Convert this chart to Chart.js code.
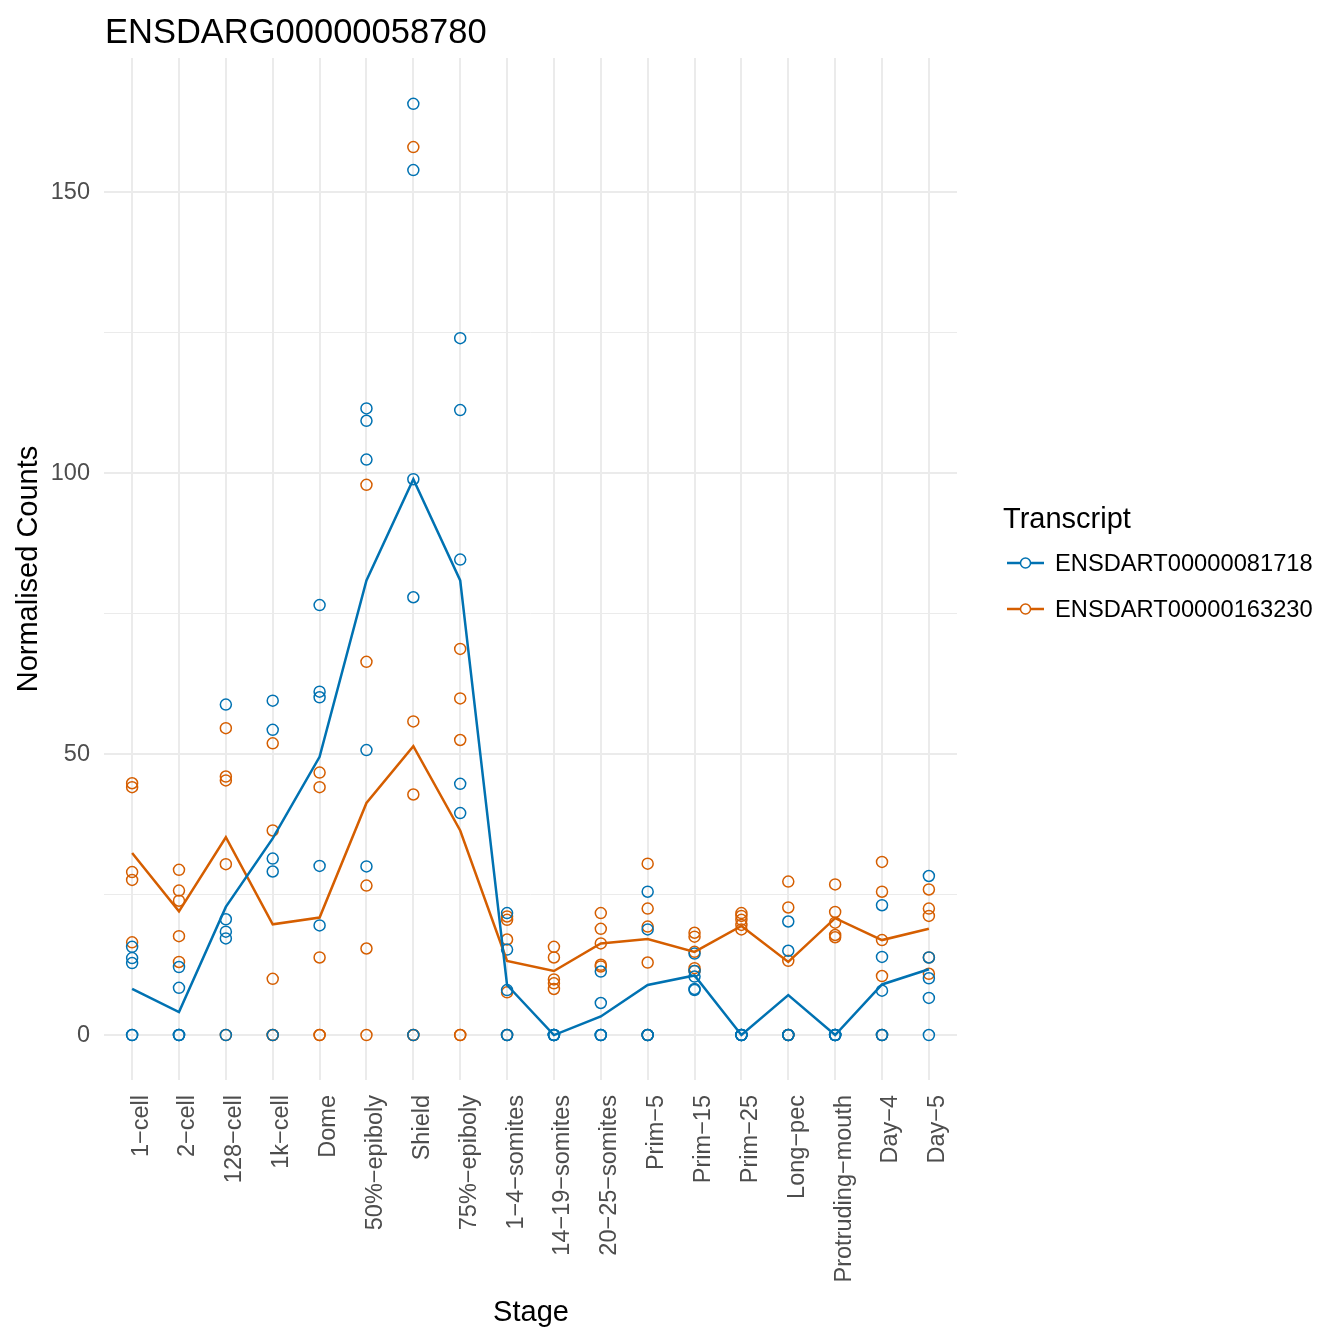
<!DOCTYPE html>
<html>
<head>
<meta charset="utf-8">
<script src="https://cdn.jsdelivr.net/npm/chart.js@4.4.1/dist/chart.umd.min.js"></script>
<style>
  body { margin: 0; background: #fff; }
  #wrap { position: relative; width: 1344px; height: 1344px; }
</style>
</head>
<body>
<div id="wrap"><canvas id="chart"></canvas></div>
<script>
const stages = ['1−cell', '2−cell', '128−cell', '1k−cell', 'Dome', '50%−epiboly', 'Shield', '75%−epiboly',
  '1−4−somites', '14−19−somites', '20−25−somites', 'Prim−5', 'Prim−15', 'Prim−25', 'Long−pec',
  'Protruding−mouth', 'Day−4', 'Day−5'];

// replicate counts per stage
const bluePoints = [
  [0, 0, 12.8, 13.7, 15.7],
  [0, 0, 0, 8.4, 12.1],
  [0, 17.2, 18.4, 20.6, 58.8],
  [0, 29.1, 31.4, 54.3, 59.5],
  [19.5, 30.1, 60.1, 61.1, 76.5],
  [30.0, 50.7, 102.4, 109.3, 111.5],
  [0, 77.9, 98.9, 153.9, 165.7],
  [39.5, 44.7, 84.6, 111.2, 124.0],
  [0, 0, 8.0, 15.2, 21.7],
  [0, 0, 0, 0, 0],
  [0, 0, 0, 5.7, 11.3],
  [0, 0, 0, 18.8, 25.5],
  [8.0, 8.2, 10.4, 11.4, 14.5],
  [0, 0, 0, 0, 0],
  [0, 0, 0, 15.0, 20.2],
  [0, 0, 0, 0, 0],
  [0, 0, 7.9, 13.9, 23.1],
  [0, 6.6, 10.1, 13.8, 28.3]
];
const orangePoints = [
  [16.5, 27.6, 29.0, 44.1, 44.8],
  [13.0, 17.6, 23.9, 25.7, 29.4],
  [0, 30.4, 45.3, 46.0, 54.6],
  [0, 0, 10.0, 36.4, 51.9],
  [0, 0, 13.8, 44.1, 46.7],
  [0, 15.4, 26.6, 66.4, 97.9],
  [0, 0, 42.8, 55.8, 158.0],
  [0, 0, 52.5, 59.9, 68.7],
  [0, 7.6, 17.0, 20.5, 21.1],
  [8.2, 9.2, 9.9, 13.8, 15.7],
  [12.2, 12.5, 16.3, 18.9, 21.7],
  [0, 12.9, 19.3, 22.5, 30.5],
  [11.4, 11.9, 14.8, 17.5, 18.2],
  [18.8, 19.6, 20.5, 21.2, 21.7],
  [0, 0, 13.2, 22.7, 27.3],
  [17.4, 17.8, 20.0, 21.9, 26.8],
  [0, 10.5, 16.9, 25.5, 30.8],
  [10.9, 13.8, 21.2, 22.5, 25.9]
];

// mean lines
const blueMean = [8.2, 4.1, 22.8, 35.0, 49.5, 80.9, 98.9, 80.9, 8.9, 0, 3.3, 8.9, 10.6, 0, 7.1, 0, 9.0, 11.7];
const orangeMean = [32.4, 22.0, 35.2, 19.7, 20.9, 41.3, 51.4, 36.4, 13.2, 11.4, 16.3, 17.1, 14.8, 19.4, 13.0, 20.8, 16.9, 18.9];

const yTicks = [0, 25, 50, 75, 100, 125, 150];
const seriesNames = ['ENSDART00000081718', 'ENSDART00000163230'];

const BLUE = '#0072B2';
const ORANGE = '#D55E00';
const FONT = "'Liberation Sans', Arial, Helvetica, sans-serif";

const toPts = arr => {
  const out = [];
  arr.forEach((vals, i) => vals.forEach(v => out.push({ x: i + 1, y: v })));
  return out;
};
const toLine = arr => arr.map((v, i) => ({ x: i + 1, y: v }));

// titles + legend drawn by hand (ggplot style)
const extras = {
  id: 'extras',
  afterDraw(chart) {
    const ctx = chart.ctx;
    ctx.save();
    ctx.fillStyle = '#000';
    ctx.textBaseline = 'alphabetic';

    ctx.font = '34.5px ' + FONT;
    ctx.textAlign = 'left';
    ctx.fillText('ENSDARG00000058780', 105, 43);

    ctx.font = '29px ' + FONT;
    ctx.textAlign = 'center';
    ctx.fillText('Stage', 531, 1321);

    ctx.save();
    ctx.translate(37, 569);
    ctx.rotate(-Math.PI / 2);
    ctx.fillText('Normalised Counts', 0, 0);
    ctx.restore();

    // legend
    ctx.textAlign = 'left';
    ctx.font = '29px ' + FONT;
    ctx.fillText('Transcript', 1003, 528);
    const cols = [BLUE, ORANGE];
    const ys = [563, 609];
    ctx.font = '23.7px ' + FONT;
    for (let i = 0; i < 2; i++) {
      ctx.strokeStyle = cols[i];
      ctx.lineWidth = 2.5;
      ctx.beginPath();
      ctx.moveTo(1007, ys[i]);
      ctx.lineTo(1044, ys[i]);
      ctx.stroke();
      ctx.lineWidth = 1.5;
      ctx.fillStyle = '#fff';
      ctx.beginPath();
      ctx.arc(1025.5, ys[i], 5, 0, Math.PI * 2);
      ctx.fill();
      ctx.stroke();
      ctx.fillStyle = '#000';
      ctx.textBaseline = 'middle';
      ctx.fillText(seriesNames[i], 1055, ys[i] + 1);
    }
    ctx.restore();
  }
};

new Chart(document.getElementById('chart'), {
  type: 'scatter',
  data: {
    datasets: [
      { label: seriesNames[0], data: toLine(blueMean), showLine: true, borderColor: BLUE, borderWidth: 2.5, pointRadius: 0, order: 0 },
      { label: seriesNames[1], data: toLine(orangeMean), showLine: true, borderColor: ORANGE, borderWidth: 2.5, pointRadius: 0, order: 0 },
      { label: seriesNames[0] + ' pts', data: toPts(bluePoints), borderColor: BLUE, backgroundColor: 'rgba(0,0,0,0)', borderWidth: 1.5, pointRadius: 5.5, order: 1 },
      { label: seriesNames[1] + ' pts', data: toPts(orangePoints), borderColor: ORANGE, backgroundColor: 'rgba(0,0,0,0)', borderWidth: 1.5, pointRadius: 5.5, order: 2 }
    ]
  },
  options: {
    responsive: true,
    maintainAspectRatio: false,
    animation: false,
    devicePixelRatio: 1,
    layout: { padding: { left: 0, top: 58, right: 387, bottom: 0 } },
    plugins: {
      legend: { display: false },
      title: { display: false },
      tooltip: { enabled: false }
    },
    scales: {
      x: {
        type: 'linear',
        min: 0.4,
        max: 18.6,
        afterBuildTicks: scale => { scale.ticks = stages.map((s, i) => ({ value: i + 1 })); },
        afterFit: scale => { scale.height = 264; },
        border: { display: false },
        grid: { color: '#EBEBEB', lineWidth: 2, drawTicks: false },
        ticks: {
          autoSkip: false,
          minRotation: 90,
          maxRotation: 90,
          padding: 15,
          labelOffset: 9,
          color: '#4D4D4D',
          font: { family: FONT, size: 23.5 },
          callback: v => stages[v - 1]
        }
      },
      y: {
        min: -8.0,
        max: 173.85,
        afterBuildTicks: scale => { scale.ticks = yTicks.map(v => ({ value: v })); },
        afterFit: scale => { scale.width = 104; },
        border: { display: false },
        grid: {
          color: '#EBEBEB',
          lineWidth: c => (c.tick && c.tick.value % 50 === 0 ? 2 : 1),
          drawTicks: false
        },
        ticks: {
          padding: 14,
          color: '#4D4D4D',
          font: { family: FONT, size: 23.5 },
          callback: v => (v % 50 === 0 ? String(v) : '')
        }
      }
    }
  },
  plugins: [extras]
});
</script>
</body>
</html>
